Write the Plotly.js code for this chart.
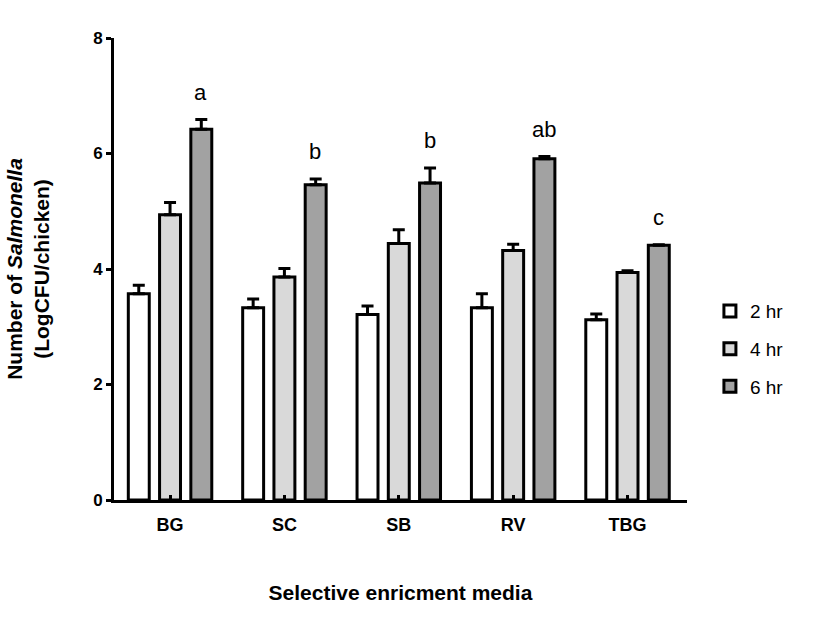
<!DOCTYPE html>
<html>
<head>
<meta charset="utf-8">
<script src="https://cdn.plot.ly/plotly-3.0.1.min.js"></script>
<style>html,body{margin:0;padding:0;background:#fff;}#chart{width:827px;height:618px;}</style>
</head>
<body>
<div id="chart"></div>
<script>
const categories = ['BG', 'SC', 'SB', 'RV', 'TBG'];
const seriesNames = ['2 hr', '4 hr', '6 hr'];
const hr2 = [3.57, 3.33, 3.21, 3.33, 3.12];
const hr2Err = [0.15, 0.15, 0.15, 0.24, 0.10];
const hr4 = [4.94, 3.86, 4.44, 4.32, 3.94];
const hr4Err = [0.21, 0.15, 0.24, 0.11, 0.03];
const hr6 = [6.42, 5.46, 5.49, 5.91, 4.41];
const hr6Err = [0.17, 0.10, 0.26, 0.04, 0.01];
const sigLetters = ['a', 'b', 'b', 'ab', 'c'];
const yTicks = [0, 2, 4, 6, 8];

const fills = ['#ffffff', '#d9d9d9', '#a2a2a2'];
const values = [hr2, hr4, hr6];
const errs = [hr2Err, hr4Err, hr6Err];
const font = 'Arial, "Liberation Sans", sans-serif';

const traces = values.map((v, i) => ({
  type: 'bar',
  name: seriesNames[i],
  legendgroup: 'g' + i,
  x: categories,
  y: v,
  marker: {color: fills[i], line: {color: '#000', width: 3}},
  error_y: {type: 'data', symmetric: false, array: errs[i], arrayminus: v.map(() => 0),
            color: '#000', thickness: 3, width: 6},
  hoverinfo: 'skip'
}));

const annotations = categories.map((c, i) => ({
  x: i + 0.27, xref: 'x', y: hr6[i] + hr6Err[i], yref: 'y',
  text: sigLetters[i], showarrow: false, yanchor: 'middle', yshift: 27,
  font: {family: font, size: 22, color: '#000'}
}));

const layout = {
  width: 827, height: 618,
  margin: {l: 114, r: 140, t: 38, b: 118},
  paper_bgcolor: '#fff', plot_bgcolor: '#fff',
  barmode: 'group', bargap: 0.18, bargroupgap: 0.33,
  showlegend: true,
  legend: {x: 1.04, y: 0.45, xanchor: 'left', yanchor: 'top',
           font: {family: font, size: 19, color: '#000'},
           tracegroupgap: 10, itemwidth: 30, bgcolor: 'rgba(0,0,0,0)'},
  xaxis: {
    type: 'category', range: [-0.49, 4.52],
    showline: true, linecolor: '#000', linewidth: 3,
    ticks: 'inside', ticklen: 5, tickwidth: 3, tickcolor: '#000',
    tickfont: {family: font, size: 18, color: '#000', weight: 'bold'},
    ticklabelstandoff: 6,
    showgrid: false, zeroline: false,
    title: {text: '<b>Selective enricment media</b>', standoff: 52,
            font: {family: font, size: 21, color: '#000'}}
  },
  yaxis: {
    range: [0, 8], tickvals: yTicks, ticktext: yTicks.map(String),
    showline: true, linecolor: '#000', linewidth: 3,
    ticks: 'outside', ticklen: 5, tickwidth: 3, tickcolor: '#000',
    tickfont: {family: font, size: 17, color: '#000', weight: 'bold'},
    showgrid: false, zeroline: false,
    title: {text: '<b>Number of <i>Salmonella</i><br>(LogCFU/chicken)</b>', standoff: 38,
            font: {family: font, size: 21, color: '#000'}}
  },
  annotations: annotations
};

Plotly.newPlot('chart', traces, layout, {displayModeBar: false, staticPlot: true});
</script>
</body>
</html>
